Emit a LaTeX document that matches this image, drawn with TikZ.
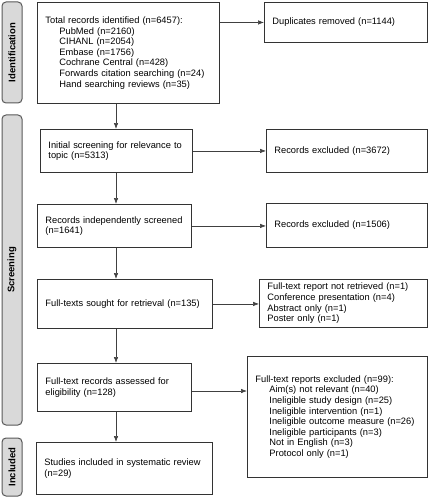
\documentclass[tikz,border=0pt]{standalone}
\usepackage{fontspec}
\setmainfont{Liberation Sans}
\usetikzlibrary{arrows.meta}
\begin{document}
\begin{tikzpicture}[x=1pt,y=-1pt,
  box/.style={draw=black!80, line width=0.9pt, anchor=north west, align=left,
    inner xsep=8pt, inner ysep=0pt, font=\fontsize{9.3}{10.6}\selectfont},
  side/.style={draw=black!65, fill=black!15, line width=1pt, rounded corners=4pt,
    rotate=90, minimum height=20pt, inner sep=0pt,
    font=\bfseries\fontsize{9.5}{11}\selectfont},
  arr/.style={draw=black!75, line width=0.6pt, -{Latex[length=6pt,width=4.5pt]}}]
\useasboundingbox (0,0) rectangle (429,500);
\newcommand{\ind}{\hspace*{14pt}}
% side labels
\node[side, minimum width=101pt] (sid) at (12,52.5) {Identification};
\node[side, minimum width=310pt] (ssc) at (12,270) {Screening};
\node[side, minimum width=58pt] (sin) at (12,467) {Included};
% main column
\node[box, minimum width=182pt, minimum height=101pt, text width=166pt] (b1) at (37,2)
  {Total records identified (n=6457):\\
   \ind PubMed (n=2160)\\
   \ind CIHANL (n=2054)\\
   \ind Embase (n=1756)\\
   \ind Cochrane Central (n=428)\\
   \ind Forwards citation searching (n=24)\\
   \ind Hand searching reviews (n=35)};
\node[box, minimum width=152pt, minimum height=43pt, text width=136pt] (b2) at (40,129)
  {Initial screening for relevance to\\topic (n=5313)};
\node[box, minimum width=154pt, minimum height=43pt, text width=138pt] (b3) at (37,204)
  {Records independently screened\\(n=1641)};
\node[box, minimum width=175pt, minimum height=49pt, text width=159pt] (b4) at (37,279)
  {Full-texts sought for retrieval (n=135)};
\node[box, minimum width=154pt, minimum height=48pt, text width=138pt] (b5) at (37,363)
  {Full-text records assessed for\\eligibility (n=128)};
\node[box, minimum width=176pt, minimum height=52pt, text width=160pt] (b6) at (36,442)
  {Studies included in systematic review\\(n=29)};
% right column
\node[box, minimum width=163pt, minimum height=40pt, text width=147pt] (dup) at (264,2)
  {Duplicates removed (n=1144)};
\node[box, minimum width=161pt, minimum height=43pt, text width=145pt] (ex1) at (266,129)
  {Records excluded (n=3672)};
\node[box, minimum width=161pt, minimum height=44pt, text width=145pt] (ex2) at (266,203)
  {Records excluded (n=1506)};
\node[box, minimum width=168pt, minimum height=48pt, text width=152pt] (ex3) at (259,279)
  {Full-text report not retrieved (n=1)\\
   Conference presentation (n=4)\\
   Abstract only (n=1)\\
   Poster only (n=1)};
\node[box, minimum width=180pt, minimum height=121pt, text width=164pt] (ex4) at (247,356)
  {Full-text reports excluded (n=99):\\
   \ind Aim(s) not relevant (n=40)\\
   \ind Ineligible study design (n=25)\\
   \ind Ineligible intervention (n=1)\\
   \ind Ineligible outcome measure (n=26)\\
   \ind Ineligible participants (n=3)\\
   \ind Not in English (n=3)\\
   \ind Protocol only (n=1)};
% connectors
\coordinate (spine) at (116,0);
\coordinate (row5) at (0,391);
\draw[arr] (b1.south -| spine) -- (b2.north -| spine);
\draw[arr] (b2.south -| spine) -- (b3.north -| spine);
\draw[arr] (b3.south -| spine) -- (b4.north -| spine);
\draw[arr] (b4.south -| spine) -- (b5.north -| spine);
\draw[arr] (b5.south -| spine) -- (b6.north -| spine);
\draw[arr] (b1.east |- dup.west) -- (dup.west);
\draw[arr] (b2.east) -- (b2.east -| ex1.west);
\draw[arr] (b3.east) -- (b3.east -| ex2.west);
\draw[arr] (b4.east) -- (b4.east -| ex3.west);
\draw[arr] (b5.east |- row5) -- (ex4.west |- row5);
\end{tikzpicture}
\end{document}
